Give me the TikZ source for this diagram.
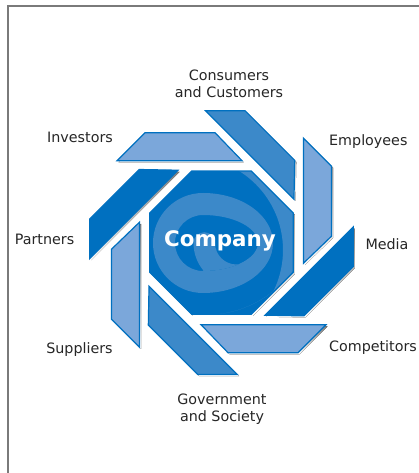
\documentclass[tikz,border=0pt]{standalone}
\usepackage{fontspec}
\setmainfont{DejaVu Sans}
\definecolor{dkblue}{HTML}{0070C0}
\definecolor{mdblue}{HTML}{3C89C9}
\definecolor{ltblue}{HTML}{7BA7DA}
\definecolor{shade}{HTML}{D2D2D2}
\definecolor{frameline}{HTML}{7A7A7A}
\begin{document}
\begin{tikzpicture}[x=1pt,y=1pt,
  lbl/.style={font=\fontsize{14.3}{17}\selectfont, text=black!85, inner sep=0pt},
  hubtext/.style={font=\fontsize{21.4}{24}\selectfont\bfseries, text=white, inner sep=0pt},
  piece/.style={draw=dkblue, line width=1.2pt, line join=miter},
  trapezoid/.style={insert path={(-104.5,82) -- (20.5,82) -- (-6.5,110) -- (-76.5,110) -- cycle}},
  octagon/.style={insert path={(22.5:77.6) -- (67.5:77.6) -- (112.5:77.6) -- (157.5:77.6)
      -- (202.5:77.6) -- (247.5:77.6) -- (292.5:77.6) -- (337.5:77.6) -- cycle}}]

\useasboundingbox (0,0) rectangle (419,473);
\fill[white] (0,0) rectangle (419,473);

% frame along the top and left side
\coordinate (fa) at (8.2,0);
\coordinate (fb) at (8.2,466.9);
\coordinate (fc) at (419,466.9);
\draw[frameline, line width=1.5pt] (fa) -- (fb) -- (fc);

\coordinate (hub) at (221.5,230.3);

% soft shadows of the eight segments and the centre
\foreach \k in {0,...,7} {
  \fill[shade, shift={(hub)}, shift={(1.6,-1.6)}, rotate=-45*\k, trapezoid];
}
\fill[shade, shift={(hub)}, shift={(1.6,-1.6)}, octagon];

% the eight segments of the ring
\foreach \k/\c in {0/ltblue,1/mdblue,2/ltblue,3/dkblue,4/ltblue,5/mdblue,6/ltblue,7/dkblue} {
  \fill[\c, piece, shift={(hub)}, rotate=-45*\k, trapezoid];
}

% centre octagon
\fill[dkblue, shift={(hub)}, octagon];

% swirl inside the octagon (drawn in a y-down frame)
\begin{scope}[shift={(0,473)}, yscale=-1]
  \clip[shift={(221.5,242.7)}, octagon];
  % outer loop of the swirl
  \fill[mdblue, even odd rule]
    (203,193) arc[start angle=270,end angle=90,radius=50]
              arc[start angle=90,end angle=-90,x radius=70,y radius=50] -- cycle
    (203,215) arc[start angle=270,end angle=90,radius=28]
              arc[start angle=90,end angle=-90,x radius=55,y radius=28] -- cycle;
  % inner tongue curling round the dark cup
  \fill[mdblue] (193.5,243)
    arc[start angle=180,end angle=360,radius=10.75]
    arc[start angle=180,end angle=0,radius=21.5]
    arc[start angle=0,end angle=90,x radius=55,y radius=28]
    -- (203.5,270.6)
    arc[start angle=140.1,end angle=180,radius=43] -- cycle;
  % crescent in the upper right corner
  \begin{scope}
    \clip (205,205) circle[radius=110];
    \fill[mdblue, even odd rule] (205,205) circle[radius=110] (190,250) circle[radius=93];
  \end{scope}
\end{scope}

\draw[dkblue, line width=1.2pt, shift={(hub)}, octagon];

\node[hubtext, anchor=base] (company) at (220,226) {Company};

% stakeholder labels
\node[lbl, align=center] (consumers) at (229,389.5) {Consumers\\and Customers};
\node[lbl, anchor=base] (investors) at (80,330) {Investors};
\node[lbl, anchor=base west] (employees) at (329,327) {Employees};
\node[lbl, anchor=base] (partners) at (44.5,228) {Partners};
\node[lbl, anchor=base] (media) at (387,223) {Media};
\node[lbl, anchor=base] (suppliers) at (79.5,119) {Suppliers};
\node[lbl, anchor=base] (competitors) at (373,121) {Competitors};
\node[lbl, align=center] (government) at (222,63.5) {Government\\and Society};
\end{tikzpicture}
\end{document}
